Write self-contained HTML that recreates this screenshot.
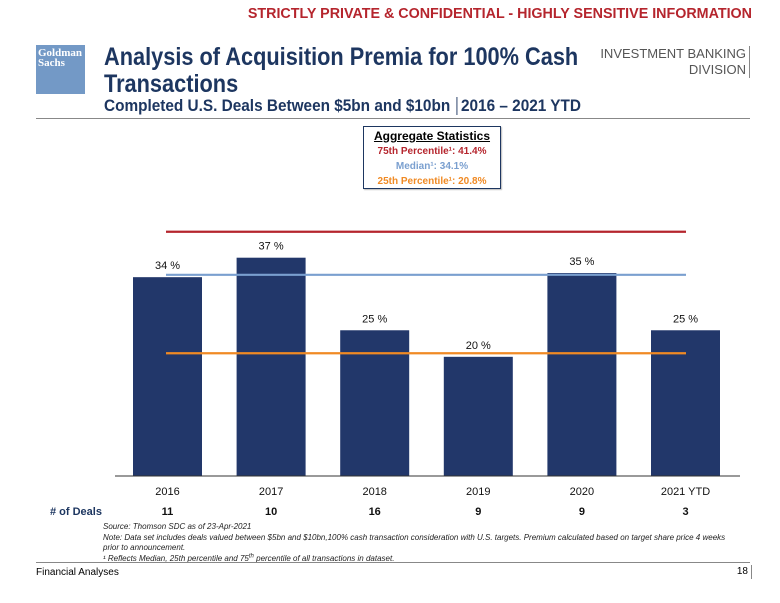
<!DOCTYPE html>
<html><head><meta charset="utf-8"><style>
body{margin:0;width:780px;height:603px;background:#fff;font-family:"Liberation Sans",Arial,sans-serif;position:relative;overflow:hidden}
.a{position:absolute;white-space:nowrap}
</style></head><body>
<div class="a" style="right:28px;top:6px;color:#b5252d;font-weight:bold;font-size:14.3px">STRICTLY PRIVATE &amp; CONFIDENTIAL - HIGHLY SENSITIVE INFORMATION</div>
<div class="a" style="left:36px;top:45px;width:49px;height:49px;background:#7399c6;color:#fff;font-family:'Liberation Serif',serif;font-weight:bold;font-size:11px;line-height:10px;padding:3px 0 0 2px;box-sizing:border-box;overflow:hidden">Goldman<br>Sachs</div>
<div class="a" style="left:104px;top:44px;color:#1d3660;font-weight:bold;font-size:25px;line-height:27px;transform:scaleX(0.87);transform-origin:0 0">Analysis of Acquisition Premia for 100% Cash<br>Transactions</div>
<div class="a" style="right:30px;top:46px;color:#555;font-size:13px;line-height:16px;text-align:right;border-right:1px solid #888;padding-right:3px">INVESTMENT BANKING<br>DIVISION</div>
<div class="a" style="left:104px;top:97px;color:#1d3660;font-weight:bold;font-size:16.5px;transform:scaleX(0.93);transform-origin:0 0">Completed U.S. Deals Between $5bn and $10bn <span style="border-left:1.5px solid #1d3660;padding-left:4px;margin-left:2px">2016 – 2021 YTD</span></div>
<div class="a" style="left:36px;top:118px;width:714px;height:1px;background:#888"></div>
<div class="a" style="left:363px;top:126px;width:136px;height:61px;border:1px solid #1d3660;text-align:center;font-weight:bold;font-size:10px;line-height:15px;box-shadow:1px 1px 1px #bbb">
<div style="text-decoration:underline;font-size:12px;margin-top:2px">Aggregate Statistics</div>
<div style="color:#b5252d">75th Percentile¹: 41.4%</div>
<div style="color:#7a9fcf">Median¹: 34.1%</div>
<div style="color:#f08a24">25th Percentile¹: 20.8%</div></div>
<svg class="a" style="left:0;top:0" width="780" height="603"><g id="g"></g></svg>
<div class="a" style="left:103px;top:522px;font-size:8px;line-height:10.5px;font-style:italic;color:#222;white-space:normal;width:640px">Source: Thomson SDC as of 23-Apr-2021<br>Note: Data set includes deals valued between $5bn and $10bn,100% cash transaction consideration with U.S. targets. Premium calculated based on target share price 4 weeks prior to announcement.<br>¹ Reflects Median, 25th percentile and 75<sup style="font-size:6px;line-height:0">th</sup> percentile of all transactions in dataset.</div>
<div class="a" style="left:36px;top:562px;width:714px;height:1px;background:#888"></div>
<div class="a" style="left:36px;top:567px;font-size:10px">Financial Analyses</div>
<div class="a" style="right:28px;top:565px;font-size:10px;border-right:1px solid #888;padding-right:3px;line-height:14px">18</div>
<script>
const categories=["2016","2017","2018","2019","2020","2021 YTD"];
const values=[33.7,37.0,24.7,20.2,34.4,24.7];
const labels=["34 %","37 %","25 %","20 %","35 %","25 %"];
const deals=["11","10","16","9","9","3"];
const p75=[41.4],median=[34.1],p25=[20.8];
const NS="http://www.w3.org/2000/svg",g=document.getElementById('g');
const base=476,k=5.9,x0=133,step=103.6,bw=69;
const y=v=>base-v*k, x=i=>x0+i*step;
function mk(t,a,txt){const e=document.createElementNS(NS,t);for(const n in a)e.setAttribute(n,a[n]);if(txt!=null)e.textContent=txt;g.appendChild(e);return e;}
categories.forEach((c,i)=>{
 let r=mk('rect',{x:x(i),y:y(values[i]),width:bw,height:values[i]*k,fill:'#22376a'});
 
 
 let t=mk('text',{x:x(i)+bw/2,y:y(values[i])-8,'text-anchor':'middle','font-size':11,fill:'#111','font-family':'Liberation Sans'},labels[i]);
 
 
 let cl=mk('text',{x:x(i)+bw/2,y:495,'text-anchor':'middle','font-size':11,fill:'#111','font-family':'Liberation Sans'},c);
 
 
 let d=mk('text',{x:x(i)+bw/2,y:515,'text-anchor':'middle','font-size':11,'font-weight':'bold',fill:'#111','font-family':'Liberation Sans'},deals[i]);
 
 
});
const lines=[[p75[0],'#b5252d','line-75th-percentile'],[median[0],'#7a9fcf','line-median'],[p25[0],'#f08a24','line-25th-percentile']];
lines.forEach(l=>{let e=mk('line',{x1:166,x2:686,y1:y(l[0]),y2:y(l[0]),stroke:l[1],'stroke-width':2.2});
 
 });
let ax=mk('line',{x1:115,x2:740,y1:base,y2:base,stroke:'#333','stroke-width':1});


let dl=mk('text',{x:50,y:515,'font-size':11,'font-weight':'bold',fill:'#1d3660','font-family':'Liberation Sans'},'# of Deals');


</script>
</body></html>
